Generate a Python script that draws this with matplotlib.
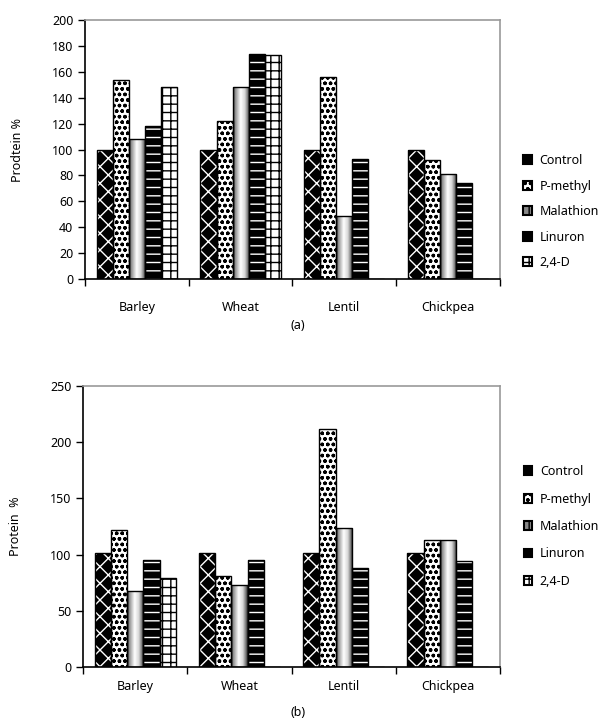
import numpy as np
import matplotlib
matplotlib.use("Agg")
import matplotlib.pyplot as plt
from matplotlib.patches import Patch
from matplotlib.colors import LinearSegmentedColormap

plt.rcParams['font.family'] = ['Noto Sans', 'DejaVu Sans']
plt.rcParams['hatch.linewidth'] = 1.0

categories = ["Barley", "Wheat", "Lentil", "Chickpea"]
series = ["Control", "P-methyl", "Malathion", "Linuron", "2,4-D"]

# (a) protein %
a_control = [100, 100, 100, 100]
a_pmethyl = [154, 122, 156, 92]
a_malathion = [108, 148, 49, 81]
a_linuron = [118, 174, 93, 74]
a_24d = [148, 173, 0, 0]

# (b) protein %
b_control = [101, 101, 101, 101]
b_pmethyl = [122, 81, 212, 113]
b_malathion = [68, 73, 124, 113]
b_linuron = [95, 95, 88, 94]
b_24d = [79, 0, 0, 0]

a_ticks = list(range(0, 201, 20))
b_ticks = list(range(0, 251, 50))

grad_cmap = LinearSegmentedColormap.from_list(
    "cyl", [(0, "#2a2a2a"), (0.12, "#8a8a8a"), (0.45, "#ffffff"),
            (0.7, "#d8d8d8"), (0.88, "#7a7a7a"), (1.0, "#202020")])

styles = [
    dict(face="black", hatch="xx", hcol="white"),
    dict(face="white", hatch="ooo", hcol="black"),
    dict(face="grad", hatch=None, hcol=None),
    dict(face="black", hatch="--", hcol="white"),
    dict(face="white", hatch="++", hcol="black"),
]

W = 0.155
fig = plt.figure(figsize=(6.08, 7.2), dpi=100)


def draw(ax, data, ticks, ylabel, legend_y, lspace, xpad, caption, cap_y):
    x = np.arange(len(categories))
    for i, (vals, st) in enumerate(zip(data, styles)):
        pos = x + (i - 2) * W
        if st["face"] == "grad":
            bars = ax.bar(pos, vals, W, color="none", edgecolor="black",
                          linewidth=1.0, zorder=3)
            for b in bars:
                if b.get_height() <= 0:
                    continue
                im = ax.imshow(np.linspace(0, 1, 64).reshape(1, -1),
                               cmap=grad_cmap, aspect="auto",
                               extent=[b.get_x(), b.get_x() + b.get_width(),
                                       0, b.get_height()], zorder=2)
                im.set_clip_path(b)
        else:
            ax.bar(pos, vals, W, color=st["face"], edgecolor=st["hcol"],
                   hatch=st["hatch"], linewidth=0, zorder=2)
            ax.bar(pos, vals, W, color="none", edgecolor="black",
                   linewidth=1.0, zorder=3)
    ax.set_xlim(-0.5, len(categories) - 0.5)
    ax.set_ylim(ticks[0], ticks[-1])
    ax.set_yticks(ticks)
    ax.set_xticks(x)
    ax.set_xticklabels(categories, fontsize=9)
    ax.tick_params(axis="x", length=0, pad=xpad)
    ax.set_xticks(np.arange(len(categories) + 1) - 0.5, minor=True)
    ax.tick_params(axis="x", which="minor", length=5, direction="out", width=1)
    ax.tick_params(axis="y", length=5, direction="out", width=1, labelsize=9)
    for s in ("left", "bottom"):
        ax.spines[s].set_linewidth(1.2)
        ax.spines[s].set_color("black")
    for s in ("top", "right"):
        ax.spines[s].set_color("#999999")
        ax.spines[s].set_linewidth(1.2)
    ax.set_ylabel(ylabel, fontsize=9)
    ax.yaxis.set_label_coords(-0.148, 0.5)
    handles = []
    for st in styles:
        if st["face"] == "grad":
            handles.append(Patch(facecolor="#888888", edgecolor="black",
                                 hatch="||", linewidth=1.5))
        else:
            handles.append(Patch(facecolor=st["face"], edgecolor="black",
                                 hatch=st["hatch"], linewidth=1.5))
    ax.legend(handles, series, loc="center left",
              bbox_to_anchor=(1.03, legend_y), frameon=False, fontsize=9,
              handlelength=0.7, handleheight=0.7, handletextpad=0.6,
              labelspacing=lspace)
    fig.text(0.49, cap_y, caption, ha="center", va="center", fontsize=9)


ax1 = fig.add_axes([0.140, 0.6125, 0.682, 0.3595])
draw(ax1, [a_control, a_pmethyl, a_malathion, a_linuron, a_24d],
     a_ticks, "Prodtein %", 0.26, 1.0, 16, "(a)", 1 - 326 / 720)

ax2 = fig.add_axes([0.137, 0.0736, 0.685, 0.3904])
draw(ax2, [b_control, b_pmethyl, b_malathion, b_linuron, b_24d],
     b_ticks, "Protein  %", 0.50, 1.15, 9, "(b)", 1 - 712 / 720)

fig.savefig("out.png", dpi=100)
